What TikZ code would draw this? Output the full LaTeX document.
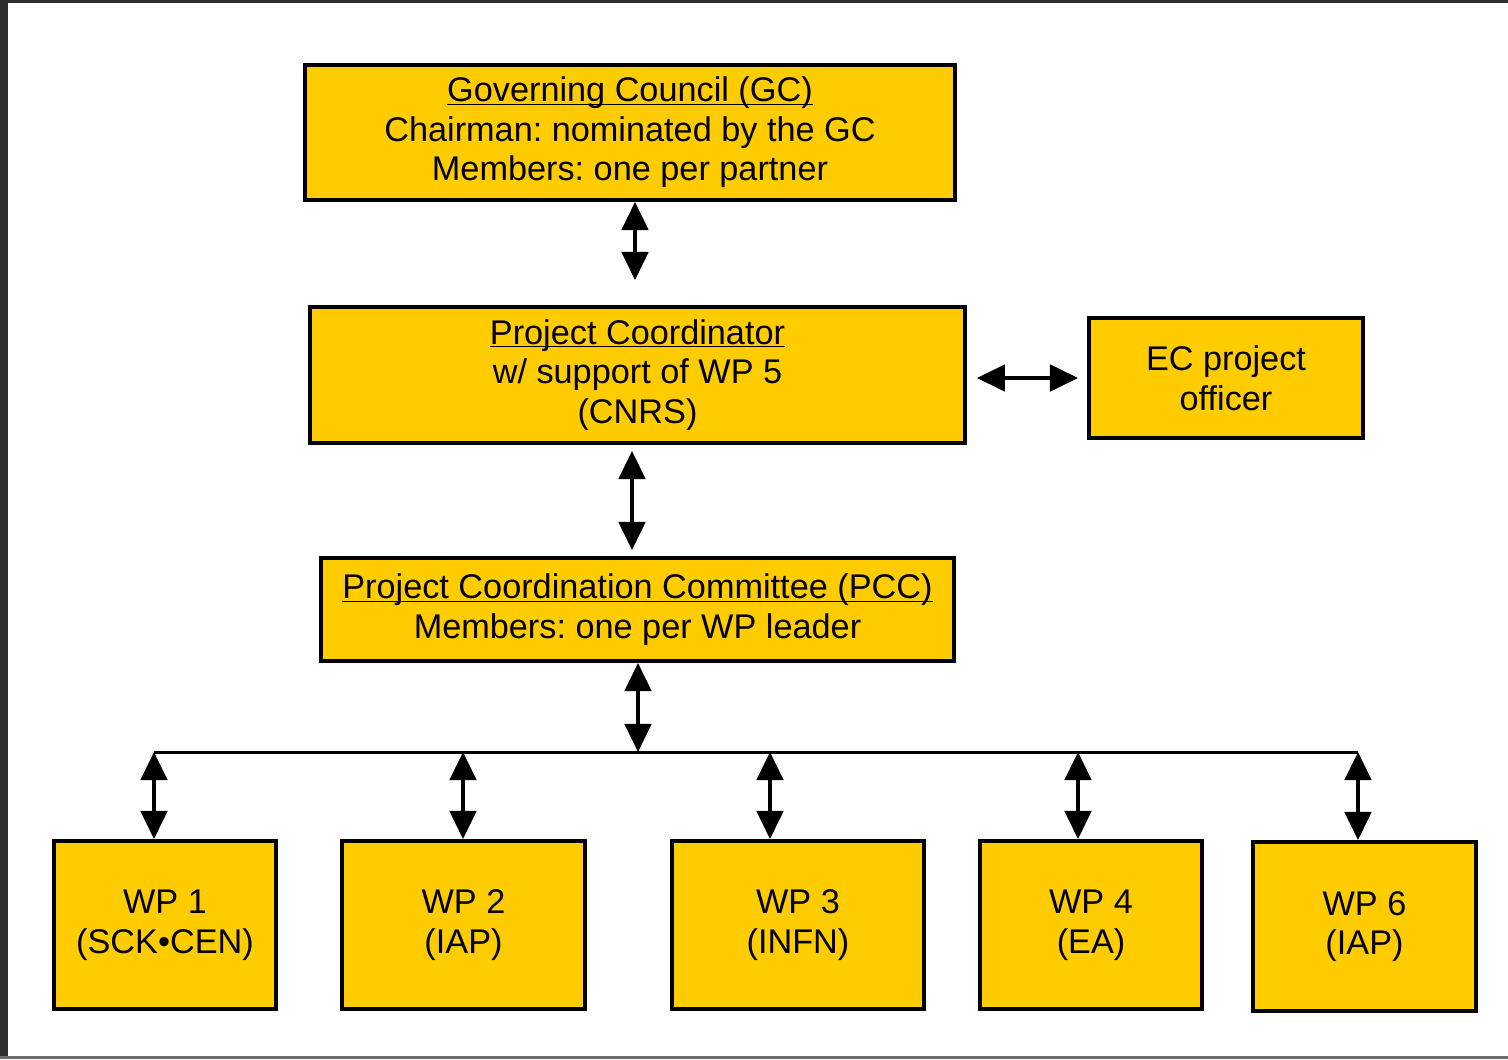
\documentclass[tikz,border=0pt]{standalone}
\usepackage{fontspec}
\setmainfont{Liberation Sans}
\usetikzlibrary{shapes,arrows.meta,positioning}
\definecolor{gold}{RGB}{255,204,0}
\definecolor{frame}{RGB}{45,45,45}
\frenchspacing
\newcommand{\headline}[1]{\underline{\setbox0\hbox{#1}\dp0=0pt\box0}}

\begin{document}
\begin{tikzpicture}[x=0.02cm,y=-0.02cm,% one unit is one pixel of the slide, y runs down
      every node/.style={
        align=center,     % so that "\\" breaks the lines
        inner sep=0pt,
        font=\fontsize{19.5}{22.5}\selectfont
      },
      box/.style={rectangle,draw=black,line width=2.2pt,fill=gold},
      link/.style={draw,line width=2.2pt,
        {Triangle[width=15pt,length=16pt]}-{Triangle[width=15pt,length=16pt]}},
      bus/.style={draw,line width=1.7pt}
    ]
    % slide background with its dark frame on the left and top
    \fill[white] (0,0) rectangle (1508,1059);
    \fill[frame] (0,0) rectangle (8,1059);
    \fill[frame] (0,0) rectangle (1508,3);
    \fill[frame!70] (0,1056) rectangle (1508,1059);

    \node[box,minimum width=13cm,minimum height=2.7cm](GC) at (630,132.5){
      \headline{Governing Council (GC)} \\
      Chairman: nominated by the GC \\
      Members: one per partner};
    \node[box,minimum width=13.1cm,minimum height=2.72cm](PC) at (637.5,375){
      \headline{Project Coordinator} \\
      w/ support of WP 5 \\
      (CNRS)};
    \node[box,minimum width=5.48cm,minimum height=2.4cm](EC) at (1226,378){
      EC project \\ officer};
    \node[box,minimum width=12.66cm,minimum height=2.06cm](PCC) at (637.5,609.5){
      \headline{Project Coordination Committee (PCC)} \\
      Members: one per WP leader};

    \node[box,minimum width=4.44cm,minimum height=3.36cm](WP1) at (165,925){WP 1 \\ (SCK•CEN)};
    \node[box,minimum width=4.86cm,minimum height=3.36cm](WP2) at (463.5,925){WP 2 \\ (IAP)};
    \node[box,minimum width=5.04cm,minimum height=3.36cm](WP3) at (798,925){WP 3 \\ (INFN)};
    \node[box,minimum width=4.44cm,minimum height=3.36cm](WP4) at (1091,925){WP 4 \\ (EA)};
    \node[box,minimum width=4.46cm,minimum height=3.38cm](WP6) at (1364.5,926.5){WP 6 \\ (IAP)};

    % connectors
    \coordinate (a1) at (635,0);
    \coordinate (a2) at (632,0);
    \coordinate (bus) at (638,752);
    \path[link,shorten >=0.5cm] (a1 |- GC.south) -- (a1 |- PC.north);
    \path[link,shorten <=0.2cm,shorten >=0.18cm] (PC.east |- EC.west) -- (EC.west);
    \path[link,shorten <=0.12cm,shorten >=0.12cm] (a2 |- PC.south) -- (a2 |- PCC.north);
    \path[link] (bus |- PCC.south) -- (bus);

    \foreach \x/\n in {154/1,463/2,770/3,1078/4,1358/6}{
      \coordinate (b\n) at (\x,752);
      \path[link] (b\n) -- (b\n |- WP\n.north);
    }
    \path[bus] (b1) -- (b6);
  \end{tikzpicture}
\end{document}
